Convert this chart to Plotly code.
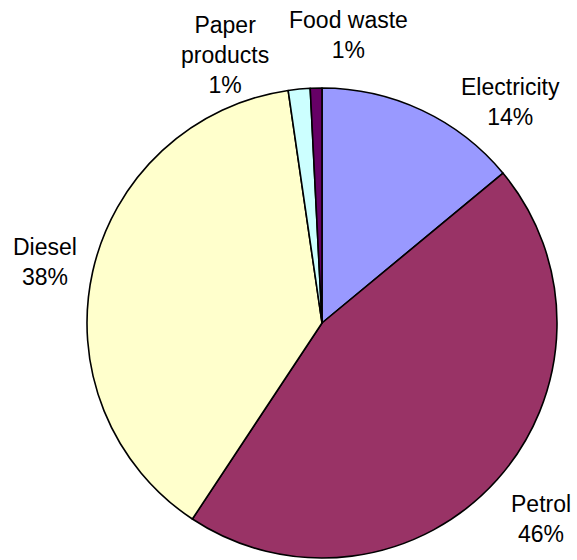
import plotly.graph_objects as go

categories = ["Electricity", "Petrol", "Diesel", "Paper products", "Food waste"]
values = [14.0, 45.3, 38.4, 1.5, 0.8]
pct_labels = ["14%", "46%", "38%", "1%", "1%"]
display_names = ["Electricity", "Petrol", "Diesel", "Paper<br>products", "Food waste"]
colors = ["#9999FF", "#993366", "#FFFFCC", "#CCFFFF", "#660066"]

W, H = 577, 560
cx, cy, r = 322, 323, 235

# label anchor positions (pixels) for the outside labels
label_pos = [(510, 102), (541, 519), (45, 262), (225, 55), (348, 35)]

fig = go.Figure(go.Pie(
    labels=categories,
    values=values,
    sort=False,
    direction="clockwise",
    rotation=0,
    marker=dict(colors=colors, line=dict(color="black", width=1.6)),
    textinfo="none",
    hoverinfo="label+percent",
    showlegend=False,
    domain=dict(x=[(cx - r) / W, (cx + r) / W], y=[(H - cy - r) / H, (H - cy + r) / H]),
))

for name, pct, (px, py) in zip(display_names, pct_labels, label_pos):
    fig.add_annotation(
        x=px / W, y=1 - py / H, xref="paper", yref="paper",
        text=f"{name}<br>{pct}", showarrow=False,
        xanchor="center", yanchor="middle", align="center",
        font=dict(family="Liberation Sans, Arial, sans-serif", size=23, color="black"),
    )

fig.update_layout(
    width=W, height=H,
    margin=dict(l=0, r=0, t=0, b=0),
    paper_bgcolor="white", plot_bgcolor="white",
)

fig.write_html("out.html")
